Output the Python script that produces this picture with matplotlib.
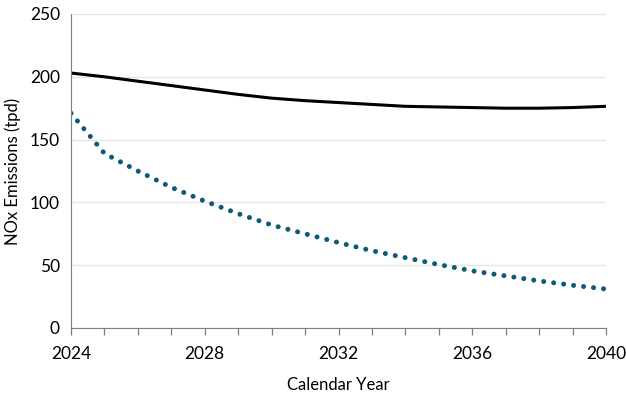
import numpy as np
import matplotlib
matplotlib.use('Agg')
import matplotlib.pyplot as plt

years = list(range(2024, 2041))
baseline = [203, 200, 196.5, 193, 189.5, 186, 183, 181, 179.5, 178, 176.5, 176, 175.5, 175, 175, 175.5, 176.5]
control = [171, 139, 125, 112, 101, 91, 82, 75, 68, 61.5, 56, 50.5, 45.5, 41.5, 37.5, 34, 31]

plt.rcParams['font.family'] = ['Lato', 'DejaVu Sans']

fig = plt.figure(figsize=(6.26, 3.94), dpi=100)
ax = fig.add_axes([71/626, 66/394, 535/626, 314/394])

ax.plot(years, baseline, color='black', lw=2.2, solid_capstyle='butt')
ax.plot(years, control, color='#0d5a7a', lw=3.6, linestyle=(0, (0.01, 2.0)),
        dash_capstyle='round')

ax.set_xlim(2024, 2040)
ax.set_ylim(0, 250)
ax.set_xticks([2024, 2028, 2032, 2036, 2040])
ax.set_xticks(years, minor=True)
ax.set_yticks([0, 50, 100, 150, 200, 250])
ax.tick_params(axis='x', which='both', length=5, color='#7f7f7f', width=0.9, labelsize=12.5, pad=8)
ax.tick_params(axis='y', length=0, labelsize=12.5, pad=8)
ax.grid(axis='y', color='#e6e6e6', lw=1)
ax.set_axisbelow(True)
for s in ['top', 'right']:
    ax.spines[s].set_visible(False)
ax.spines['left'].set_color('#7f7f7f')
ax.spines['bottom'].set_color('#7f7f7f')

ax.set_ylabel('NOx Emissions (tpd)', fontsize=12, labelpad=6)
ax.set_xlabel('Calendar Year', fontsize=12, labelpad=11)

fig.savefig('out.png', dpi=100)
